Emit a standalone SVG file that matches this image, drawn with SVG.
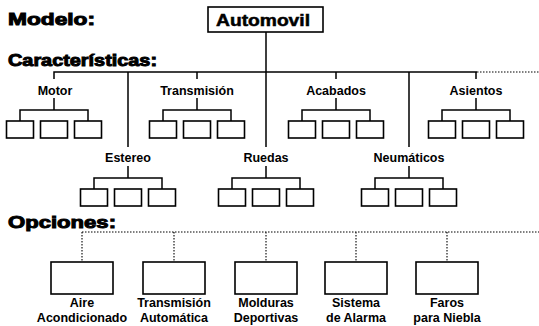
<svg xmlns="http://www.w3.org/2000/svg" width="539" height="326" viewBox="0 0 539 326">
<style>
.t{font-family:"Liberation Sans",Arial,sans-serif;font-weight:bold;fill:#000}
.title{font-size:17px;stroke:#000;stroke-width:1}
.lbl{font-size:12.5px;text-anchor:middle}
.box{fill:#fff;stroke:#000;stroke-width:1.6}
.ln{fill:none;stroke:#000;stroke-width:1.5}
.dot{fill:none;stroke:#000;stroke-width:1.1;stroke-dasharray:1.5 1.5}
</style>
<defs>
<rect id="sb" class="box" x="-13.5" y="0" width="27" height="17"/>
<g id="tri">
<path class="ln" d="M0,-23V-11M-34,0V-11H34V0"/>
<use href="#sb" x="-34"/><use href="#sb" x="0"/><use href="#sb" x="34"/>
</g>
<rect id="ob" class="box" x="-31" y="0" width="62" height="32"/>
</defs>

<g id="titles">
<text class="t title" x="8" y="25" textLength="87" lengthAdjust="spacingAndGlyphs">Modelo:</text>
<text class="t title" x="8" y="66" textLength="149" lengthAdjust="spacingAndGlyphs">Características:</text>
<text class="t title" x="8" y="228" textLength="108" lengthAdjust="spacingAndGlyphs">Opciones:</text>
</g>

<g id="connectors">
<path class="ln" d="M54,79V72H477"/>
<path class="dot" d="M477,72H539"/>
<path class="ln" d="M197,72V79M336,72V79M476,72V79"/>
<path class="ln" d="M266,32V147M128,72V147M409,72V147"/>
<path class="dot" d="M82,232H539M82,232V261M174,232V261M266,232V261M356,232V261M447,232V261"/>
</g>

<g id="automovil">
<rect class="box" x="208" y="7" width="115" height="25"/>
<text class="t" x="216" y="26" font-size="16" stroke="#000" stroke-width="0.5" textLength="94" lengthAdjust="spacingAndGlyphs">Automovil</text>
</g>

<g id="motor"><text class="t lbl" x="55" y="95">Motor</text><use href="#tri" x="54" y="121"/></g>
<g id="transmision"><text class="t lbl" x="197" y="95">Transmisión</text><use href="#tri" x="197" y="121"/></g>
<g id="acabados"><text class="t lbl" x="336" y="95">Acabados</text><use href="#tri" x="336" y="121"/></g>
<g id="asientos"><text class="t lbl" x="476" y="95">Asientos</text><use href="#tri" x="476" y="121"/></g>

<g id="estereo"><text class="t lbl" x="128" y="162">Estereo</text><use href="#tri" x="128" y="189"/></g>
<g id="ruedas"><text class="t lbl" x="266" y="162">Ruedas</text><use href="#tri" x="266" y="189"/></g>
<g id="neumaticos"><text class="t lbl" x="409" y="162">Neumáticos</text><use href="#tri" x="409" y="189"/></g>

<g id="aire"><use href="#ob" x="82" y="262"/><text class="t lbl" x="82" y="307">Aire</text><text class="t lbl" x="82" y="322">Acondicionado</text></g>
<g id="transauto"><use href="#ob" x="174" y="262"/><text class="t lbl" x="174" y="307">Transmisión</text><text class="t lbl" x="174" y="322">Automática</text></g>
<g id="molduras"><use href="#ob" x="266" y="262"/><text class="t lbl" x="266" y="307">Molduras</text><text class="t lbl" x="266" y="322">Deportivas</text></g>
<g id="sistema"><use href="#ob" x="356" y="262"/><text class="t lbl" x="356" y="307">Sistema</text><text class="t lbl" x="356" y="322">de Alarma</text></g>
<g id="faros"><use href="#ob" x="447" y="262"/><text class="t lbl" x="447" y="307">Faros</text><text class="t lbl" x="447" y="322">para Niebla</text></g>
</svg>
